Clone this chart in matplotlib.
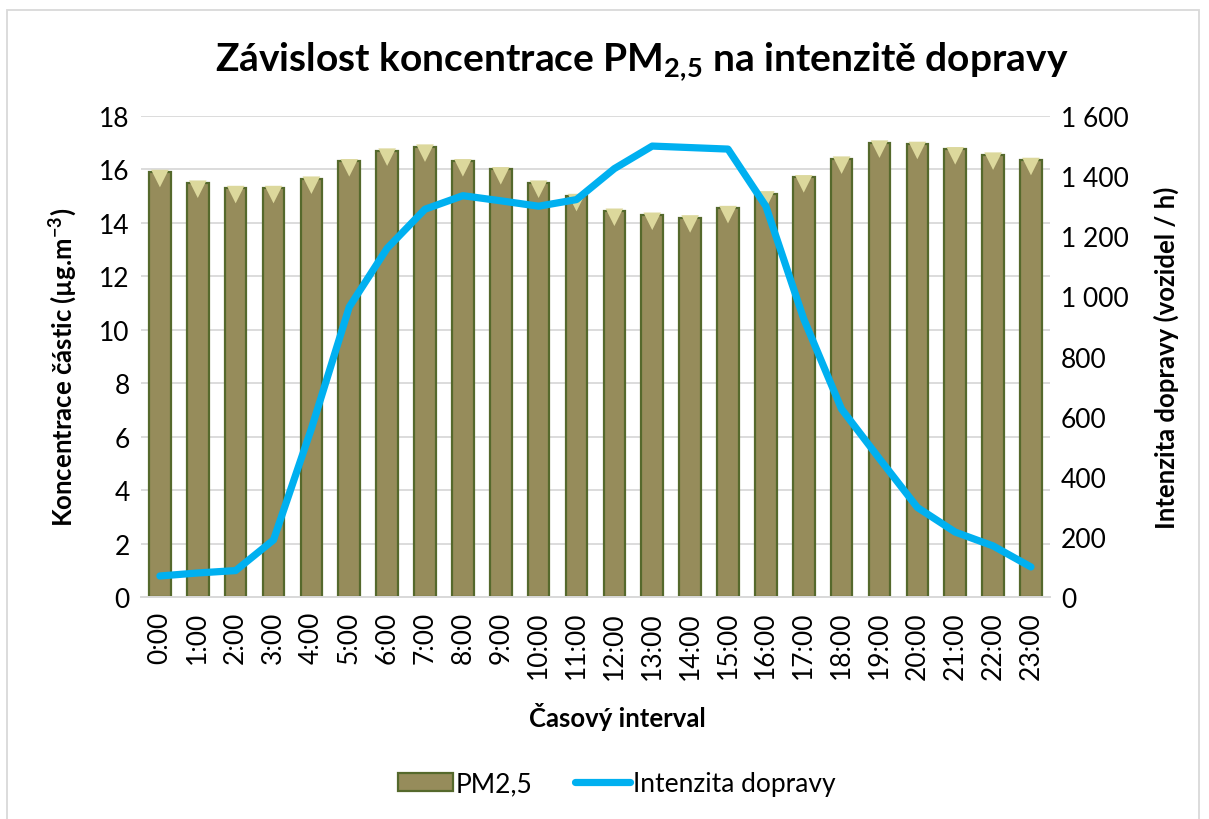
import matplotlib
matplotlib.use('agg')
import matplotlib.pyplot as plt
from matplotlib.ticker import FuncFormatter, MultipleLocator
from matplotlib.lines import Line2D
from matplotlib.patches import Patch, Rectangle

plt.rcParams['font.family'] = ['Lato', 'DejaVu Sans']
plt.rcParams['mathtext.default'] = 'regular'

hours = ["0:00", "1:00", "2:00", "3:00", "4:00", "5:00", "6:00", "7:00",
         "8:00", "9:00", "10:00", "11:00", "12:00", "13:00", "14:00", "15:00",
         "16:00", "17:00", "18:00", "19:00", "20:00", "21:00", "22:00", "23:00"]
pm25 = [15.9, 15.5, 15.3, 15.3, 15.65, 16.3, 16.7, 16.85, 16.3, 16.0, 15.5, 15.0,
        14.45, 14.3, 14.2, 14.55, 15.1, 15.7, 16.4, 17.0, 16.95, 16.75, 16.55, 16.35]
traffic = [70, 80, 88, 190, 560, 965, 1160, 1290, 1335, 1318, 1300, 1322,
           1425, 1500, 1495, 1490, 1300, 925, 625, 460, 298, 216, 170, 100]

bar_color = '#968C5B'
edge_color = '#55692C'
cap_color = '#DCD89C'
line_color = '#00B0F0'

fig = plt.figure(figsize=(12.09, 8.2), dpi=100)
ax = fig.add_axes([0.1166, 0.2707, 0.7518, 0.5866])
ax2 = ax.twinx()

x = range(len(hours))
ax.bar(x, pm25, width=0.57, color=bar_color, edgecolor=edge_color, linewidth=1.6, zorder=2)
# light bevel on the bar tops
ax.scatter(x, [v - 0.24 for v in pm25], marker='v', s=160, color=cap_color,
           edgecolors='none', zorder=3)

ax2.plot(x, traffic, color=line_color, linewidth=5.2, solid_capstyle='round',
         solid_joinstyle='round', zorder=4)

ax.set_xlim(-0.5, len(hours) - 0.5)
ax.set_ylim(0, 18)
ax.yaxis.set_major_locator(MultipleLocator(2))
ax2.set_ylim(0, 1600)
ax2.yaxis.set_major_locator(MultipleLocator(200))
ax2.yaxis.set_major_formatter(FuncFormatter(lambda v, p: '{:,.0f}'.format(v).replace(',', ' ')))

ax.set_xticks(list(x))
ax.set_xticklabels(hours, rotation=90, fontsize=19)
ax.tick_params(axis='y', labelsize=19, length=0, pad=8)
ax.tick_params(axis='x', length=0, pad=10)
ax2.tick_params(axis='y', labelsize=19, length=0, pad=8)

ax.grid(axis='y', color='#D9D9D9', linewidth=1.3, zorder=0)
ax.set_axisbelow(True)
for a in (ax, ax2):
    for s in ('top', 'left', 'right'):
        a.spines[s].set_visible(False)
    a.spines['bottom'].set_color('#D9D9D9')
    a.spines['bottom'].set_linewidth(1.3)

ax.set_ylabel('Koncentrace částic (µg.m$^{-3}$)', fontsize=18.5, fontweight='bold')
ax.yaxis.set_label_coords(-0.068, 0.48)
ax2.set_ylabel('Intenzita dopravy (vozidel / h)', fontsize=18.5, fontweight='bold', labelpad=18)
ax.set_xlabel('Časový interval', fontsize=18.5, fontweight='bold')
ax.xaxis.set_label_coords(0.524, -0.218)

fig.text(0.531, 0.925, 'Závislost koncentrace PM$_{2{,}5}$ na intenzitě dopravy',
         ha='center', va='center', fontsize=28, fontweight='bold')

handles = [Patch(facecolor=bar_color, edgecolor=edge_color, linewidth=1.6),
           Line2D([0], [0], color=line_color, linewidth=5.2, solid_capstyle='round')]
fig.legend(handles, ['PM2,5', 'Intenzita dopravy'], loc='center', bbox_to_anchor=(0.51, 0.043),
           ncol=2, frameon=False, fontsize=19, handlelength=2.1, handletextpad=0.1,
           columnspacing=1.6)

fig.patches.append(Rectangle((7 / 1209, -0.01), 1192 / 1209, 1 - 11 / 820 + 0.01,
                             transform=fig.transFigure, fill=False,
                             edgecolor='#D9D9D9', linewidth=1.3))

plt.savefig('out.png', dpi=100)
